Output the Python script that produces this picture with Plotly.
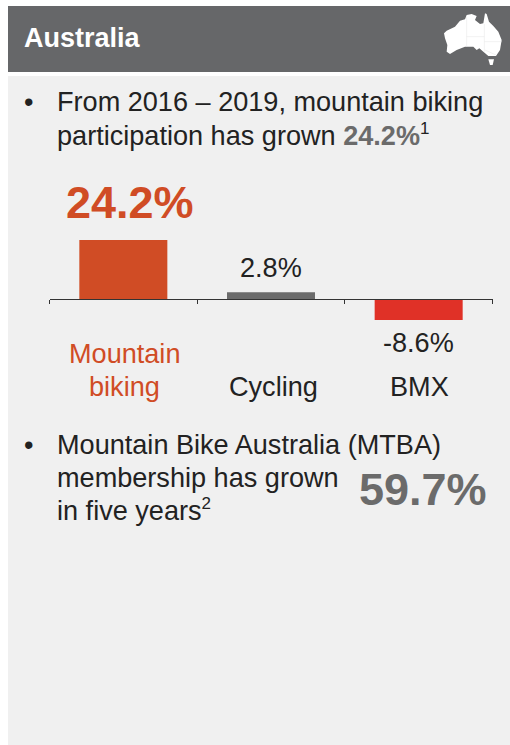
import plotly.graph_objects as go

W, H = 510, 745
categories = ["Mountain biking", "Cycling", "BMX"]
category_lines = [["Mountain", "biking"], ["Cycling"], ["BMX"]]
values = [24.2, 2.8, -8.6]
value_labels = ["24.2%", "2.8%", "-8.6%"]
bar_colors = ["#D04C25", "#6B6B6B", "#E03127"]
label_colors = ["#D04C25", "#222222", "#222222"]

ORANGE, DARK, GREY = "#D04C25", "#222222", "#6B6B6B"
FONT = "Liberation Sans, Arial, sans-serif"
BODY = 27.1

def fx(p): return p / W
def fy(p): return 1 - p / H

PX_PER_UNIT = 2.44
ZERO_PX = 299
Y_MIN, Y_MAX = -20, 30

fig = go.Figure(go.Bar(
    x=categories, y=values, marker=dict(color=bar_colors, line_width=0),
    width=0.596, hoverinfo="skip"))

def poly(points):
    return "M" + "L".join(f"{fx(420 + a / 3):.5f},{fy(b / 3):.5f}" for a, b in points) + "Z"

def line(points):
    return "M" + "L".join(f"{fx(420 + a / 3):.5f},{fy(b / 3):.5f}" for a, b in points)

mainland = [(72,100),(80,92),(105,80),(120,62),(135,58),(140,45),(155,42),(170,48),(165,60),
            (180,72),(190,70),(195,40),(200,42),(207,65),(220,78),(235,95),(245,120),(240,150),
            (228,168),(205,168),(190,155),(178,145),(170,150),(160,140),(135,140),(110,150),
            (90,162),(80,155),(82,135),(75,115)]
tasmania = [(205,178),(222,178),(218,195),(210,195)]
borders = [[(140,50),(140,140)], [(140,110),(193,110)], [(193,72),(193,155)],
           [(193,125),(245,125)], [(195,150),(228,165)]]

shapes = [
    dict(type="rect", xref="paper", yref="paper", x0=fx(8), x1=1, y0=fy(6), y1=fy(72),
         fillcolor="#666769", line_width=0, layer="below"),
    dict(type="rect", xref="paper", yref="paper", x0=fx(8), x1=1, y0=fy(76), y1=0,
         fillcolor="#F0F0F0", line_width=0, layer="below"),
]
for pts in (mainland, tasmania):
    shapes.append(dict(type="path", xref="paper", yref="paper", path=poly(pts),
                       fillcolor="#FFFFFF", line_width=0))
for pts in borders:
    shapes.append(dict(type="path", xref="paper", yref="paper", path=line(pts),
                       line=dict(color="#E4E4E4", width=0.5)))

def text(x, y, s, size=BODY, color=DARK, anchor="left", vanchor="middle"):
    return dict(xref="paper", yref="paper", x=fx(x), y=fy(y), text=s, showarrow=False,
                xanchor=anchor, yanchor=vanchor, align="left",
                font=dict(family=FONT, size=size, color=color), borderpad=0, borderwidth=0)

SUP = '<sup><span style="font-size:17px">%s</span></sup>'
anns = [
    text(24, 38, "<b>Australia</b>", 27, "#FFFFFF"),
    text(24, 102, "•"),
    text(57, 102, "From 2016 – 2019, mountain biking"),
    text(57, 135, f'participation has grown <b><span style="color:{GREY}">24.2%</span></b>' + SUP % "1"),
    text(24, 444, "•"),
    text(57, 444, "Mountain Bike Australia (MTBA)"),
    text(57, 477, "membership has grown"),
    text(57, 510, "in five years" + SUP % "2"),
    text(359, 489, "<b>59.7%</b>", 45, GREY),
]

# value labels, positioned from the data
yshifts = [10, 7, -5]
xshifts = [7, 0, 0]
for i, (c, v, s, lc) in enumerate(zip(categories, values, value_labels, label_colors)):
    anns.append(dict(xref="x", yref="y", x=c, y=v, text=f"<b>{s}</b>" if i == 0 else s,
                     showarrow=False, yshift=yshifts[i], xshift=xshifts[i], xanchor="center",
                     yanchor="bottom" if v > 0 else "top",
                     font=dict(family=FONT, size=45 if i == 0 else BODY, color=lc)))

# category labels, bottom-aligned below the axis
label_x_shifts = [1, 2.5, 0.5]
for c, lines, lc, dx in zip(categories, category_lines, label_colors, label_x_shifts):
    for j, part in enumerate(reversed(lines)):
        anns.append(dict(xref="x", yref="paper", x=c, y=fy(386 - 33 * j), text=part, showarrow=False,
                         xanchor="center", yanchor="middle", align="center", xshift=dx,
                         font=dict(family=FONT, size=BODY, color=lc)))

fig.update_layout(
    width=W, height=H, autosize=False, margin=dict(l=0, r=0, t=0, b=0),
    paper_bgcolor="#FFFFFF", plot_bgcolor="rgba(0,0,0,0)", showlegend=False,
    shapes=shapes, annotations=anns,
    xaxis=dict(domain=[fx(49.5), fx(492.5)], anchor="free", position=fy(ZERO_PX),
               type="category", categoryorder="array", categoryarray=categories,
               tickson="boundaries", ticks="outside", ticklen=4, tickwidth=1.3, tickcolor="#333333",
               showticklabels=False, showline=True, linecolor="#333333", linewidth=1.3,
               showgrid=False, zeroline=False, fixedrange=True),
    yaxis=dict(domain=[fy(ZERO_PX - Y_MIN * PX_PER_UNIT), fy(ZERO_PX - Y_MAX * PX_PER_UNIT)],
               range=[Y_MIN, Y_MAX], visible=False, fixedrange=True),
)
fig.write_html("out.html", config=dict(displayModeBar=False),
               post_script="document.body.style.margin='0';document.body.style.overflow='hidden';")
